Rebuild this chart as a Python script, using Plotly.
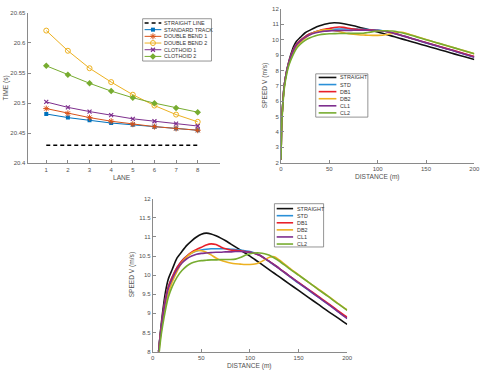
import plotly.graph_objects as go

# ---------------- data: lane times ----------------
lanes = [1, 2, 3, 4, 5, 6, 7, 8]
time_straight = [20.43] * 8
time_std = [20.482, 20.476, 20.4715, 20.467, 20.464, 20.461, 20.458, 20.455]
time_db1 = [20.491, 20.483, 20.476, 20.470, 20.465, 20.461, 20.458, 20.455]
time_db2 = [20.6205, 20.587, 20.558, 20.535, 20.514, 20.496, 20.481, 20.469]
time_cl1 = [20.502, 20.493, 20.486, 20.480, 20.474, 20.470, 20.466, 20.462]
time_cl2 = [20.562, 20.547, 20.533, 20.520, 20.509, 20.500, 20.492, 20.485]

# ---------------- data: speed vs distance ----------------
distance = [0, 0.5, 1, 2, 3, 4, 6, 8, 10, 13, 16, 20, 25, 30, 35, 40, 45, 50, 55, 60,
            65, 70, 75, 80, 85, 90, 95, 100, 105, 110, 115, 120, 125, 130, 140, 150,
            160, 170, 180, 190, 200]
v_straight = [2.2, 4.2, 5.0, 6.0, 6.8, 7.3, 8.0, 8.55, 9.0, 9.55, 9.9, 10.15, 10.45, 10.62,
              10.78, 10.9, 11.0, 11.07, 11.10, 11.08, 11.03, 10.97, 10.9, 10.82, 10.74,
              10.66, 10.58, 10.5, 10.41, 10.32, 10.23, 10.14, 10.05, 9.96, 9.78, 9.6,
              9.42, 9.24, 9.06, 8.89, 8.71]
v_std = [2.2, 4.2, 5.0, 6.0, 6.8, 7.3, 8.0, 8.5, 8.9, 9.38, 9.7, 9.95, 10.2, 10.38, 10.5,
         10.58, 10.63, 10.66, 10.68, 10.69, 10.69, 10.69, 10.69, 10.68, 10.67, 10.66,
         10.64, 10.62, 10.58, 10.52, 10.44, 10.35, 10.26, 10.17, 9.98, 9.79, 9.61, 9.43,
         9.25, 9.06, 8.88]
v_db1 = [2.2, 4.2, 5.0, 6.0, 6.8, 7.3, 8.0, 8.5, 8.9, 9.38, 9.7, 9.95, 10.2, 10.38, 10.5,
         10.6, 10.67, 10.73, 10.79, 10.82, 10.8, 10.74, 10.69, 10.66, 10.65, 10.64, 10.62,
         10.6, 10.57, 10.52, 10.44, 10.36, 10.27, 10.18, 9.99, 9.81, 9.63, 9.45, 9.27,
         9.08, 8.9]
v_db2 = [2.2, 4.1, 4.9, 5.9, 6.7, 7.2, 7.9, 8.4, 8.75, 9.2, 9.52, 9.82, 10.1, 10.33, 10.48,
         10.58, 10.64, 10.64, 10.6, 10.53, 10.45, 10.39, 10.35, 10.32, 10.3, 10.29, 10.28,
         10.28, 10.29, 10.33, 10.4, 10.47, 10.48, 10.4, 10.2, 10.01, 9.82, 9.64, 9.46,
         9.27, 9.09]
v_cl1 = [2.2, 4.2, 5.0, 6.0, 6.8, 7.3, 8.0, 8.45, 8.85, 9.32, 9.65, 9.9, 10.15, 10.32,
         10.43, 10.5, 10.55, 10.57, 10.58, 10.59, 10.6, 10.6, 10.61, 10.61, 10.62, 10.62,
         10.61, 10.6, 10.57, 10.52, 10.44, 10.36, 10.27, 10.18, 9.99, 9.8, 9.62, 9.43,
         9.25, 9.05, 8.86]
v_cl2 = [2.2, 4.0, 4.8, 5.8, 6.6, 7.1, 7.8, 8.3, 8.65, 9.08, 9.42, 9.7, 9.95, 10.12, 10.24,
         10.32, 10.36, 10.38, 10.39, 10.4, 10.4, 10.41, 10.41, 10.41, 10.42, 10.46, 10.52,
         10.56, 10.58, 10.58, 10.56, 10.52, 10.45, 10.37, 10.18, 10.0, 9.82, 9.63, 9.45,
         9.26, 9.08]

time_names = ["STRAIGHT LINE", "STANDARD TRACK", "DOUBLE BEND 1", "DOUBLE BEND 2",
              "CLOTHOID 1", "CLOTHOID 2"]
speed_names = ["STRAIGHT", "STD", "DB1", "DB2", "CL1", "CL2"]

lane_ticks = [1, 2, 3, 4, 5, 6, 7, 8]
time_ticks = [20.4, 20.45, 20.5, 20.55, 20.6, 20.65]
time_ticktext = ["20.4", "20.45", "20.5", "20.55", "20.6", "20.65"]
dist_ticks = [0, 50, 100, 150, 200]
speed_ticks_a = [2, 3, 4, 5, 6, 7, 8, 9, 10, 11, 12]
speed_ticks_b = [8, 8.5, 9, 9.5, 10, 10.5, 11, 11.5, 12]

# ---------------- style ----------------
W, H = 484, 370
FONT = "Liberation Sans"
AX = "#8a8a8a"
TXT = "#505050"
c_time = ["#000000", "#0072BD", "#D95319", "#EDB120", "#7E2F8E", "#77AC30"]
c_speed = ["#111111", "#2a90d8", "#e8202a", "#EDB120", "#7E2F8E", "#77AC30"]
markers = [None, dict(symbol="square", size=4),
           dict(symbol="asterisk-open", size=5, line=dict(width=1)),
           dict(symbol="circle-open", size=5, line=dict(width=1)),
           dict(symbol="x-thin-open", size=4, line=dict(width=1.2)),
           dict(symbol="diamond", size=5)]

fig = go.Figure()

time_series = [time_straight, time_std, time_db1, time_db2, time_cl1, time_cl2]
for i, ys in enumerate(time_series):
    if i == 0:
        fig.add_trace(go.Scatter(x=lanes, y=ys, mode="lines", xaxis="x", yaxis="y",
                                 line=dict(color=c_time[0], width=1.4, dash="4px,3px"),
                                 showlegend=False))
    else:
        mk = dict(markers[i]); mk["color"] = c_time[i]
        fig.add_trace(go.Scatter(x=lanes, y=ys, mode="lines+markers", xaxis="x", yaxis="y",
                                 line=dict(color=c_time[i], width=1), marker=mk,
                                 showlegend=False))

speed_series = [v_straight, v_std, v_db1, v_db2, v_cl1, v_cl2]
for ax_x, ax_y in [("x2", "y2"), ("x3", "y3")]:
    for i, ys in enumerate(speed_series):
        fig.add_trace(go.Scatter(x=distance, y=ys, mode="lines", xaxis=ax_x, yaxis=ax_y,
                                 line=dict(color=c_speed[i], width=1.6, shape="spline",
                                           smoothing=0.7),
                                 showlegend=False))


def px_dom(a, b, total):
    return [a / total, b / total]


def axis_style(**kw):
    d = dict(showline=True, linecolor=AX, linewidth=1, ticks="inside", ticklen=3,
             tickcolor=AX, showgrid=False, zeroline=False, mirror=False,
             tickfont=dict(family=FONT, size=6, color=TXT))
    d.update(kw)
    return d


layout = dict(
    width=W, height=H, margin=dict(l=0, r=0, t=0, b=0),
    paper_bgcolor="white", plot_bgcolor="rgba(0,0,0,0)", showlegend=False,
    font=dict(family=FONT, size=6, color=TXT),
    xaxis=axis_style(domain=px_dom(26, 222, W), range=[0.136, 9.045], tickvals=lane_ticks,
                     anchor="y"),
    yaxis=axis_style(domain=[1 - 163 / H, 1 - 10 / H], range=[20.4, 20.65],
                     tickvals=time_ticks, ticktext=time_ticktext, anchor="x"),
    xaxis2=axis_style(domain=px_dom(283.7, 480.3, W), range=[0, 200], tickvals=dist_ticks,
                      anchor="y2"),
    yaxis2=axis_style(domain=[1 - 162.3 / H, 1 - 6 / H], range=[2, 12],
                      tickvals=speed_ticks_a, anchor="x2"),
    xaxis3=axis_style(domain=px_dom(153.3, 351, W), range=[0, 200], tickvals=dist_ticks,
                      anchor="y3"),
    yaxis3=axis_style(domain=[1 - 354.3 / H, 1 - 199 / H], range=[8, 12],
                      tickvals=speed_ticks_b, anchor="x3"),
    # pixel overlay axis for legends / titles
    xaxis4=dict(domain=[0, 1], range=[0, W], visible=False, anchor="y4", fixedrange=True),
    yaxis4=dict(domain=[0, 1], range=[H, 0], visible=False, anchor="x4", fixedrange=True),
)
fig.update_layout(**layout)

annotations = []
shapes = []


def title(text, x, y, angle=0, size=6.6):
    annotations.append(dict(text=text, x=x, y=y, xref="x4", yref="y4", showarrow=False,
                            textangle=angle, font=dict(family=FONT, size=size, color=TXT),
                            xanchor="center", yanchor="middle"))


title("LANE", 122, 177)
title("TIME (s)", 4, 86, angle=-90)
title("DISTANCE (m)", 382, 177)
title("SPEED V (m/s)", 267, 84, angle=-90)
title("DISTANCE (m)", 252, 368.5)
title("SPEED V (m/s)", 132, 276, angle=-90)


def legend(box, rows_y, line_x0, line_x1, text_x, names, colors, widths, dashes, mks):
    x0, y0, x1, y1 = box
    shapes.append(dict(type="rect", xref="x4", yref="y4", x0=x0, y0=y0, x1=x1, y1=y1,
                       line=dict(color="#7a7a7a", width=0.8), fillcolor="white",
                       layer="below"))
    for i, name in enumerate(names):
        yy = rows_y[i]
        line = dict(color=colors[i], width=widths[i])
        if dashes[i]:
            line["dash"] = dashes[i]
        fig.add_trace(go.Scatter(x=[line_x0, line_x1], y=[yy, yy], mode="lines",
                                 xaxis="x4", yaxis="y4", line=line, showlegend=False,
                                 hoverinfo="skip"))
        if mks[i] is not None:
            mk = dict(mks[i]); mk["color"] = colors[i]
            fig.add_trace(go.Scatter(x=[(line_x0 + line_x1) / 2], y=[yy], mode="markers",
                                     xaxis="x4", yaxis="y4", marker=mk, showlegend=False,
                                     hoverinfo="skip"))
        annotations.append(dict(text=name, x=text_x, y=yy, xref="x4", yref="y4",
                                showarrow=False, xanchor="left", yanchor="middle",
                                font=dict(family=FONT, size=5.4, color="#333333")))


legend((143, 16, 213, 59), [20.3, 27.1, 33.9, 40.7, 47.5, 54.3], 145, 162, 162.5,
       time_names, c_time, [1.4, 1, 1, 1, 1, 1],
       ["4px,3px", None, None, None, None, None], markers)
legend((319, 72, 372, 116), [75.7, 82.9, 90.1, 97.3, 104.5, 111.7], 322, 340, 341.5,
       speed_names, c_speed, [1.6] * 6, [None] * 6, [None] * 6)
legend((277, 204, 327, 248), [209, 216.2, 223.4, 230.6, 237.8, 245], 279.3, 296, 297.5,
       speed_names, c_speed, [1.6] * 6, [None] * 6, [None] * 6)

fig.update_layout(annotations=annotations, shapes=shapes)
fig.write_html("out.html")
